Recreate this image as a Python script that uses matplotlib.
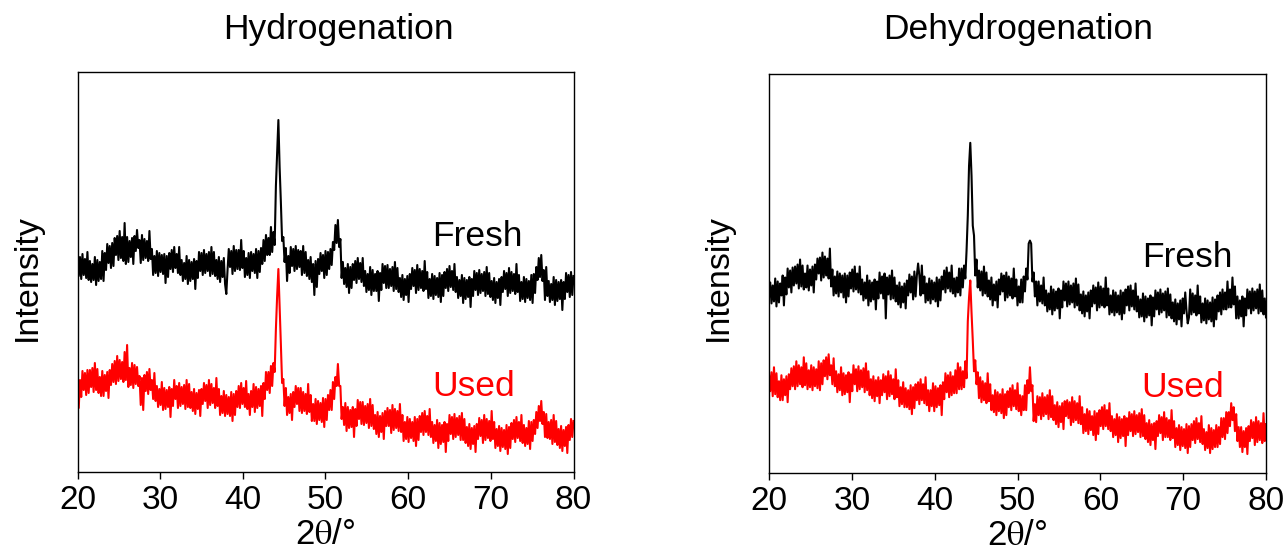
import numpy as np
import matplotlib
matplotlib.use("Agg")
import matplotlib.pyplot as plt

plt.rcParams['font.family'] = ['Liberation Sans', 'DejaVu Sans']
plt.rcParams['mathtext.fontset'] = 'stix'

# 2theta sampling (degrees), 0.15 deg step
two_theta = np.linspace(20, 80, 401)

# Hydrogenation panel (arbitrary intensity units)
hyd_fresh = [
    212, 196, 215, 193, 218, 197, 213, 194, 220, 192,
    211, 190, 208, 192, 215, 187, 212, 191, 210, 193,
    221, 191, 219, 202, 228, 209, 226, 204, 229, 206,
    234, 217, 236, 212, 241, 214, 235, 211, 249, 208,
    235, 210, 231, 215, 234, 208, 236, 221, 242, 224,
    232, 209, 237, 212, 233, 214, 231, 211, 241, 213,
    223, 197, 216, 199, 221, 196, 219, 200, 217, 198,
    218, 189, 216, 195, 219, 203, 222, 200, 225, 204,
    218, 199, 225, 197, 212, 191, 209, 193, 216, 188,
    212, 191, 210, 193, 213, 183, 211, 194, 220, 201,
    219, 197, 222, 199, 218, 201, 220, 196, 225, 198,
    220, 196, 212, 193, 215, 190, 211, 195, 214, 188,
    178, 202, 223, 205, 221, 198, 226, 201, 222, 203,
    222, 202, 232, 204, 221, 195, 214, 197, 219, 194,
    220, 201, 218, 199, 223, 194, 221, 200, 224, 208,
    232, 211, 237, 217, 234, 217, 245, 220, 240, 227,
    286, 320, 352, 305, 270, 231, 235, 210, 224, 191,
    216, 199, 225, 206, 223, 201, 226, 203, 222, 205,
    221, 197, 226, 199, 220, 196, 212, 193, 215, 190,
    208, 177, 211, 185, 213, 198, 219, 201, 217, 194,
    221, 197, 220, 203, 223, 207, 230, 222, 247, 229,
    252, 225, 233, 194, 210, 188, 204, 185, 208, 179,
    205, 184, 208, 192, 211, 189, 214, 193, 209, 190,
    214, 186, 201, 180, 198, 182, 205, 177, 202, 181,
    198, 181, 201, 171, 199, 182, 208, 189, 206, 184,
    207, 184, 203, 186, 205, 181, 210, 183, 204, 180,
    194, 175, 197, 172, 193, 177, 196, 170, 198, 183,
    204, 186, 202, 179, 207, 182, 203, 184, 201, 181,
    211, 183, 200, 174, 193, 176, 198, 173, 196, 177,
    194, 175, 199, 170, 197, 176, 200, 184, 203, 181,
    206, 185, 201, 182, 208, 180, 195, 174, 192, 176,
    197, 169, 194, 173, 192, 175, 195, 165, 193, 176,
    201, 182, 199, 177, 202, 179, 198, 181, 200, 176,
    205, 178, 199, 175, 191, 172, 194, 169, 190, 174,
    193, 167, 195, 180, 201, 183, 199, 176, 204, 179,
    200, 181, 198, 178, 208, 180, 197, 171, 190, 173,
    195, 170, 193, 174, 191, 172, 197, 169, 198, 179,
    205, 192, 214, 195, 217, 191, 202, 172, 205, 176,
    191, 170, 188, 172, 195, 167, 192, 171, 190, 173,
    192, 162, 190, 173, 199, 180, 197, 175, 200, 177,
    196,
]
hyd_used = [
    94, 64, 92, 75, 101, 82, 99, 77, 102, 79,
    102, 85, 104, 80, 109, 82, 103, 79, 95, 76,
    101, 76, 97, 81, 100, 74, 102, 87, 108, 90,
    111, 88, 116, 91, 112, 93, 110, 90, 120, 92,
    127, 85, 104, 87, 109, 84, 107, 88, 105, 86,
    96, 67, 94, 62, 97, 81, 100, 78, 103, 82,
    92, 73, 99, 71, 86, 65, 83, 67, 90, 62,
    84, 63, 82, 65, 85, 55, 83, 66, 92, 73,
    86, 64, 89, 66, 85, 68, 87, 63, 92, 65,
    88, 64, 80, 61, 83, 58, 79, 63, 82, 56,
    83, 68, 89, 71, 87, 64, 92, 67, 88, 69,
    84, 64, 94, 66, 83, 57, 76, 59, 81, 56,
    77, 58, 75, 56, 80, 51, 78, 57, 81, 65,
    86, 64, 89, 68, 84, 65, 91, 63, 78, 57,
    81, 65, 88, 60, 85, 64, 83, 66, 86, 56,
    89, 73, 100, 82, 100, 79, 106, 86, 109, 100,
    143, 176, 203, 167, 128, 89, 93, 66, 84, 57,
    75, 59, 78, 52, 80, 65, 86, 68, 84, 61,
    84, 59, 80, 61, 78, 58, 88, 60, 77, 51,
    68, 51, 73, 48, 71, 52, 69, 50, 74, 45,
    73, 52, 77, 62, 82, 62, 90, 73, 95, 86,
    108, 86, 86, 53, 65, 47, 69, 41, 65, 44,
    62, 45, 65, 35, 63, 46, 72, 53, 70, 48,
    70, 47, 66, 49, 68, 44, 73, 46, 67, 43,
    57, 38, 60, 35, 56, 40, 59, 33, 61, 46,
    64, 46, 62, 39, 67, 42, 63, 44, 61, 41,
    68, 40, 57, 31, 50, 33, 55, 30, 53, 34,
    50, 31, 55, 26, 53, 32, 56, 40, 59, 37,
    61, 40, 56, 37, 63, 35, 50, 29, 47, 31,
    52, 24, 49, 28, 47, 30, 50, 20, 48, 31,
    57, 38, 55, 33, 58, 35, 54, 37, 56, 32,
    59, 32, 53, 29, 45, 26, 48, 23, 44, 28,
    46, 20, 48, 33, 54, 36, 52, 29, 57, 32,
    53, 34, 51, 31, 61, 33, 50, 24, 43, 26,
    46, 21, 44, 25, 42, 23, 47, 18, 45, 24,
    49, 33, 52, 30, 55, 34, 50, 31, 57, 29,
    47, 26, 44, 28, 51, 23, 50, 31, 52, 38,
    60, 44, 66, 51, 71, 48, 60, 35, 58, 34,
    50, 33, 52, 28, 57, 30, 51, 27, 43, 24,
    46, 21, 42, 26, 45, 19, 47, 32, 53, 35,
    51,
]

# Dehydrogenation panel (arbitrary intensity units)
dehyd_fresh = [
    176, 191, 170, 188, 172, 195, 167, 192, 171, 190,
    178, 198, 168, 196, 179, 205, 186, 203, 181, 206,
    188, 207, 190, 209, 185, 214, 187, 208, 184, 200,
    186, 208, 183, 204, 188, 207, 181, 209, 194, 215,
    200, 216, 193, 221, 196, 217, 198, 215, 195, 225,
    187, 204, 178, 197, 180, 202, 177, 200, 181, 198,
    176, 200, 171, 198, 177, 201, 185, 204, 182, 207,
    184, 200, 181, 207, 179, 194, 173, 191, 175, 198,
    168, 193, 172, 191, 174, 194, 164, 192, 175, 201,
    180, 197, 175, 200, 155, 196, 179, 198, 174, 203,
    175, 196, 172, 188, 169, 191, 166, 187, 171, 190,
    165, 193, 178, 199, 181, 197, 174, 202, 177, 198,
    210, 198, 178, 208, 180, 197, 171, 190, 173, 195,
    170, 193, 174, 191, 172, 196, 167, 194, 173, 197,
    184, 203, 181, 206, 185, 201, 182, 208, 180, 195,
    177, 196, 181, 205, 178, 205, 186, 208, 195, 223,
    258, 308, 331, 298, 248, 238, 198, 214, 186, 203,
    183, 202, 178, 207, 180, 201, 177, 193, 174, 196,
    168, 189, 173, 192, 166, 194, 179, 200, 182, 198,
    173, 201, 176, 197, 178, 195, 175, 205, 177, 194,
    168, 187, 171, 194, 171, 197, 182, 205, 194, 230,
    233, 230, 192, 201, 177, 192, 168, 192, 172, 188,
    170, 196, 168, 183, 162, 180, 164, 187, 159, 184,
    163, 182, 165, 185, 155, 183, 166, 192, 173, 190,
    167, 192, 169, 188, 171, 190, 166, 195, 168, 189,
    163, 179, 160, 182, 157, 178, 162, 181, 155, 183,
    167, 188, 170, 186, 163, 191, 166, 187, 168, 185,
    166, 196, 168, 185, 159, 178, 161, 183, 158, 181,
    161, 178, 159, 183, 154, 181, 160, 184, 168, 187,
    163, 188, 167, 183, 164, 190, 162, 177, 156, 174,
    157, 180, 152, 177, 156, 175, 158, 178, 148, 176,
    157, 183, 164, 181, 159, 184, 161, 180, 163, 182,
    156, 185, 158, 179, 155, 171, 152, 174, 149, 170,
    154, 173, 147, 175, 160, 181, 163, 150, 156, 184,
    159, 180, 161, 178, 158, 188, 160, 177, 151, 170,
    153, 175, 150, 173, 154, 171, 152, 176, 147, 174,
    154, 178, 162, 181, 159, 184, 164, 181, 164, 192,
    166, 184, 166, 196, 169, 187, 155, 177, 155, 173,
    157, 177, 147, 175, 158, 184, 165, 182, 160, 185,
    163, 182, 165, 184, 160, 189, 162, 183, 159, 175,
    156,
]
dehyd_used = [
    99, 82, 101, 77, 106, 79, 100, 76, 92, 73,
    98, 73, 94, 78, 97, 71, 99, 84, 105, 87,
    107, 84, 112, 87, 108, 89, 106, 86, 116, 88,
    110, 84, 103, 86, 108, 83, 106, 87, 104, 85,
    112, 83, 110, 89, 113, 97, 116, 94, 119, 98,
    108, 89, 115, 87, 102, 81, 99, 83, 106, 78,
    100, 79, 98, 81, 101, 71, 99, 82, 108, 89,
    104, 82, 107, 84, 103, 86, 105, 81, 110, 83,
    102, 78, 94, 75, 97, 72, 93, 77, 96, 70,
    93, 78, 99, 81, 97, 74, 102, 77, 98, 79,
    94, 74, 104, 76, 93, 67, 86, 69, 91, 66,
    85, 66, 83, 64, 88, 59, 86, 65, 89, 73,
    91, 69, 94, 73, 89, 70, 96, 68, 83, 62,
    83, 67, 90, 62, 87, 66, 85, 68, 88, 58,
    91, 74, 100, 81, 98, 76, 101, 78, 97, 80,
    103, 80, 110, 84, 106, 84, 102, 86, 112, 95,
    152, 176, 193, 161, 133, 102, 113, 89, 101, 75,
    96, 71, 92, 73, 90, 70, 100, 72, 89, 63,
    78, 61, 83, 58, 81, 62, 79, 60, 84, 55,
    79, 58, 82, 66, 85, 63, 88, 67, 83, 64,
    90, 62, 78, 58, 77, 63, 88, 63, 93, 80,
    106, 82, 88, 52, 69, 51, 77, 58, 76, 54,
    80, 57, 76, 59, 78, 54, 83, 56, 77, 53,
    68, 49, 71, 46, 67, 51, 70, 44, 72, 57,
    73, 55, 71, 48, 76, 51, 72, 53, 70, 50,
    77, 49, 66, 40, 59, 42, 64, 39, 62, 43,
    57, 38, 62, 33, 60, 39, 63, 47, 66, 44,
    68, 47, 63, 44, 70, 42, 57, 36, 54, 38,
    59, 31, 56, 35, 54, 37, 57, 27, 55, 38,
    61, 42, 59, 37, 62, 39, 58, 41, 60, 36,
    64, 37, 58, 34, 50, 31, 53, 28, 49, 33,
    50, 24, 52, 37, 58, 40, 56, 33, 61, 36,
    55, 36, 53, 33, 63, 35, 52, 26, 45, 28,
    48, 23, 46, 27, 44, 25, 49, 20, 47, 26,
    49, 33, 52, 30, 55, 34, 50, 31, 57, 29,
    44, 23, 41, 25, 48, 20, 45, 24, 43, 26,
    48, 26, 46, 29, 55, 36, 55, 34, 61, 40,
    61, 47, 70, 53, 66, 42, 59, 32, 46, 26,
    46, 21, 42, 26, 45, 19, 47, 32, 53, 35,
    51, 28, 56, 31, 52, 33, 50, 30, 60, 32,
    49,
]

panels = [
    ("Hydrogenation", hyd_fresh, hyd_used),
    ("Dehydrogenation", dehyd_fresh, dehyd_used),
]
series_labels = ["Fresh", "Used"]
series_colors = ["#000000", "#ff0000"]
xticks = [20, 30, 40, 50, 60, 70, 80]

W, H = 1287, 556
fig = plt.figure(figsize=(W / 100, H / 100), dpi=100)

axes_px = [(77.5, 472, 573.5, 72), (769, 473, 1266, 74)]
title_x = [338, 1018]
ylab_x = [27, 718]
label_pos = [[(62.9, 236), (62.9, 86)], [(65.0, 216), (65.0, 86)]]

for k, (title, fresh, used) in enumerate(panels):
    x0, yb, x1, yt = axes_px[k]
    ax = fig.add_axes([x0 / W, 1 - yb / H, (x1 - x0) / W, (yb - yt) / H])
    for vals, col in zip([fresh, used], series_colors):
        ax.plot(two_theta, vals, color=col, lw=1.5)
    ax.set_xlim(20, 80)
    ax.set_ylim(0, 400)
    ax.set_xticks(xticks)
    ax.set_xticklabels([str(t) for t in xticks], fontsize=24)
    ax.set_yticks([])
    ax.tick_params(axis='x', direction='out', length=5, width=1.0, pad=4.5,
                   top=False)
    for s in ax.spines.values():
        s.set_linewidth(1.0)
    ax.set_xlabel(r'2$\mathrm{\theta}$/°', fontsize=25, labelpad=1)
    for (lx, ly), lab, col in zip(label_pos[k], series_labels, series_colors):
        ax.text(lx, ly, lab, color=col, fontsize=25.5, ha='left', va='center')
    fig.text(title_x[k] / W, 1 - 29 / H, title, fontsize=25.5,
             ha='center', va='center')
    fig.text(ylab_x[k] / W, 1 - 277.5 / H, "Intensity", fontsize=24.5,
             rotation=90, ha='center', va='center')

fig.savefig("out.png", dpi=100)
